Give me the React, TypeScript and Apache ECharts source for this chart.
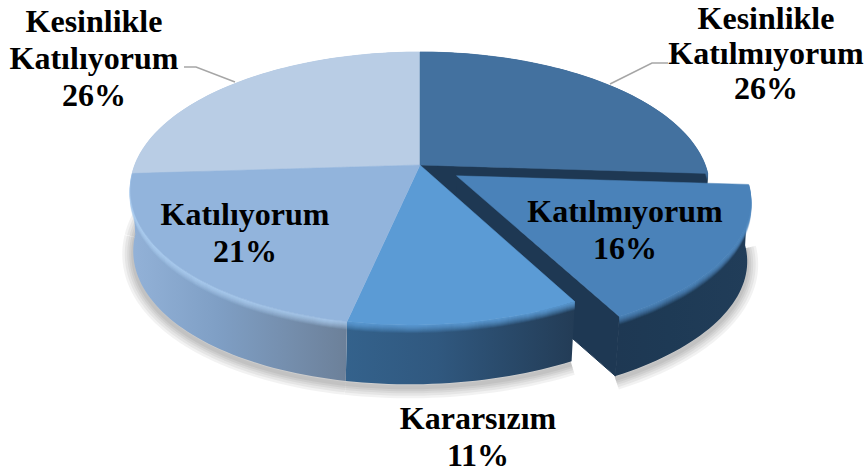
import React, { useEffect, useRef } from "react";
import * as echarts from "echarts";

const categories = [
  "Kesinlikle\nKatılmıyorum",
  "Katılmıyorum",
  "Kararsızım",
  "Katılıyorum",
  "Kesinlikle\nKatılıyorum",
];
const values = [26, 16, 11, 21, 26];
const explodedFlags = [0, 0.15, 0, 0, 0];

const topColors = ["#43719f", "#4a82b9", "#5b9bd5", "#92b4dc", "#b9cde5"];
const rimColors = ["#43719f", "#4f88bf", "#5b9bd5", "#a9cbee", "#b9cde5"];
const sideStops = [
  ["#254666", "#254666", "#254666"],
  ["#1e3853", "#1e3a55", "#213d59"],
  ["#34628c", "#30587f", "#233c56"],
  ["#93b2d8", "#7f9fc5", "#6c8099"],
  ["#93b2d8", "#93b2d8", "#93b2d8"],
];
const wallColor = "#1e3853";
const paintRank = [1, 2, 3, 4, 0];

const labelCenters = [
  [766, 52.5],
  [625, 229],
  [478, 436],
  [245, 232],
  [94, 58],
];
const labelLineHeights = [35, 37, 37, 37, 37];
const leaderLines = [
  [[610, 84], [652, 63], [668, 63]],
  null,
  null,
  null,
  [[184, 67], [196, 67], [235, 82]],
];

const CX = 420;
const CY = 165;
const RX = 285;
const RY = 132.4;
const K = 0.172;
const DEPTH = 61;
const BOTTOM_SCALE = 0.99;
const SHEAR_TOP = 9;
const SHEAR_BOTTOM = 11;

const project = (u: number, v: number, yOff = 0, q = 1, shear = SHEAR_TOP): number[] => {
  const den = 1 - K * v;
  const s = v > 0 ? shear * v * v : 0;
  return [CX + (q * RX * u) / den - s, CY + yOff + (q * RY * v) / den];
};

const arc = (
  a0: number,
  a1: number,
  ou: number,
  ov: number,
  yOff = 0,
  q = 1,
  shear = SHEAR_TOP
) => {
  const pts: number[][] = [];
  const n = Math.max(2, Math.ceil((a1 - a0) / 1.5));
  for (let i = 0; i <= n; i++) {
    const a = ((a0 + ((a1 - a0) * i) / n) * Math.PI) / 180;
    pts.push(project(Math.sin(a) + ou, -Math.cos(a) + ov, yOff, q, shear));
  }
  return pts;
};

const total = values.reduce((s, v) => s + v, 0);

const renderItem = (params: any, api: any) => {
  const i = params.dataIndex;
  const value = api.value(1);
  const d = api.value(2);
  let start = 0;
  for (let j = 0; j < i; j++) start += (values[j] / total) * 360;
  const end = start + (value / total) * 360;
  const mid = (((start + end) / 2) * Math.PI) / 180;
  const ou = Math.sin(mid) * d;
  const ov = -Math.cos(mid) * d;
  const base = (paintRank[i] + 1) * 100;
  const children: any[] = [];

  const apexTop = project(ou, ov);
  const apexBot = project(ou, ov, DEPTH, BOTTOM_SCALE, SHEAR_BOTTOM);
  const topArc = arc(start, end, ou, ov);
  const botArc = arc(start, end, ou, ov, DEPTH, BOTTOM_SCALE, SHEAR_BOTTOM);

  // soft shadow below the solid: stacked translucent strokes
  const shadowArc = arc(start, end, ou, ov, DEPTH + 3, BOTTOM_SCALE, SHEAR_BOTTOM);
  [22, 17, 12, 8, 4].forEach((w, n) => {
    children.push({
      type: "polyline",
      z2: 1 + n,
      shape: { points: shadowArc },
      style: {
        fill: "none",
        stroke: "#000000",
        lineWidth: w,
        opacity: 0.05,
        lineJoin: "round",
      },
    });
  });

  // outer wall
  children.push({
    type: "polygon",
    z2: base,
    shape: { points: [...topArc, ...botArc.slice().reverse()] },
    style: {
      fill: new echarts.graphic.LinearGradient(0, 0, 1, 0, [
        { offset: 0, color: sideStops[i][0] },
        { offset: 0.4, color: sideStops[i][1] },
        { offset: 1, color: sideStops[i][2] },
      ]),
    },
  });

  // visible cut faces
  const endTop = topArc[topArc.length - 1];
  const endBot = botArc[botArc.length - 1];
  if (i === 0 || d > 0) {
    children.push({
      type: "polygon",
      z2: base + 1,
      shape: { points: [apexTop, endTop, endBot, apexBot] },
      style: { fill: wallColor, stroke: wallColor, lineWidth: 1 },
    });
  }

  // bevel along the front rim
  for (let s = 8; s >= 1; s--) {
    children.push({
      type: "polyline",
      z2: base + 2 + (8 - s),
      shape: { points: arc(start, end, ou, ov, s - 0.5) },
      style: {
        fill: "none",
        stroke: rimColors[i],
        lineWidth: 1.6,
        opacity: (1 - s / 9) * 0.9,
      },
    });
  }

  // top face
  children.push({
    type: "polygon",
    z2: base + 20,
    shape: { points: [apexTop, ...topArc] },
    style: { fill: topColors[i], stroke: topColors[i], lineWidth: 0.5 },
  });

  const leader = leaderLines[i];
  if (leader) {
    children.push({
      type: "polyline",
      z2: 900,
      shape: { points: leader },
      style: { fill: "none", stroke: "#a6a6a6", lineWidth: 1.5 },
    });
  }

  children.push({
    type: "text",
    z2: 1000,
    style: {
      text: `${categories[i]}\n${value}%`,
      x: labelCenters[i][0],
      y: labelCenters[i][1],
      align: "center",
      verticalAlign: "middle",
      fontFamily: '"Liberation Serif", serif',
      fontWeight: "bold",
      fontSize: 32,
      lineHeight: labelLineHeights[i],
      fill: "#000000",
    },
  });

  return { type: "group", children };
};

export default function App() {
  const ref = useRef<HTMLDivElement>(null);
  useEffect(() => {
    const chart = echarts.init(ref.current!, null, { renderer: "svg" });
    chart.setOption({
      animation: false,
      backgroundColor: "#ffffff",
      series: [
        {
          type: "custom",
          coordinateSystem: "none",
          clip: false,
          silent: true,
          renderItem,
          data: values.map((v, i) => [i, v, explodedFlags[i]]),
        },
      ],
    });
    return () => chart.dispose();
  }, []);
  return (
    <div
      ref={ref}
      style={{ width: 866, height: 476, position: "absolute", left: 0, top: 0 }}
    />
  );
}
